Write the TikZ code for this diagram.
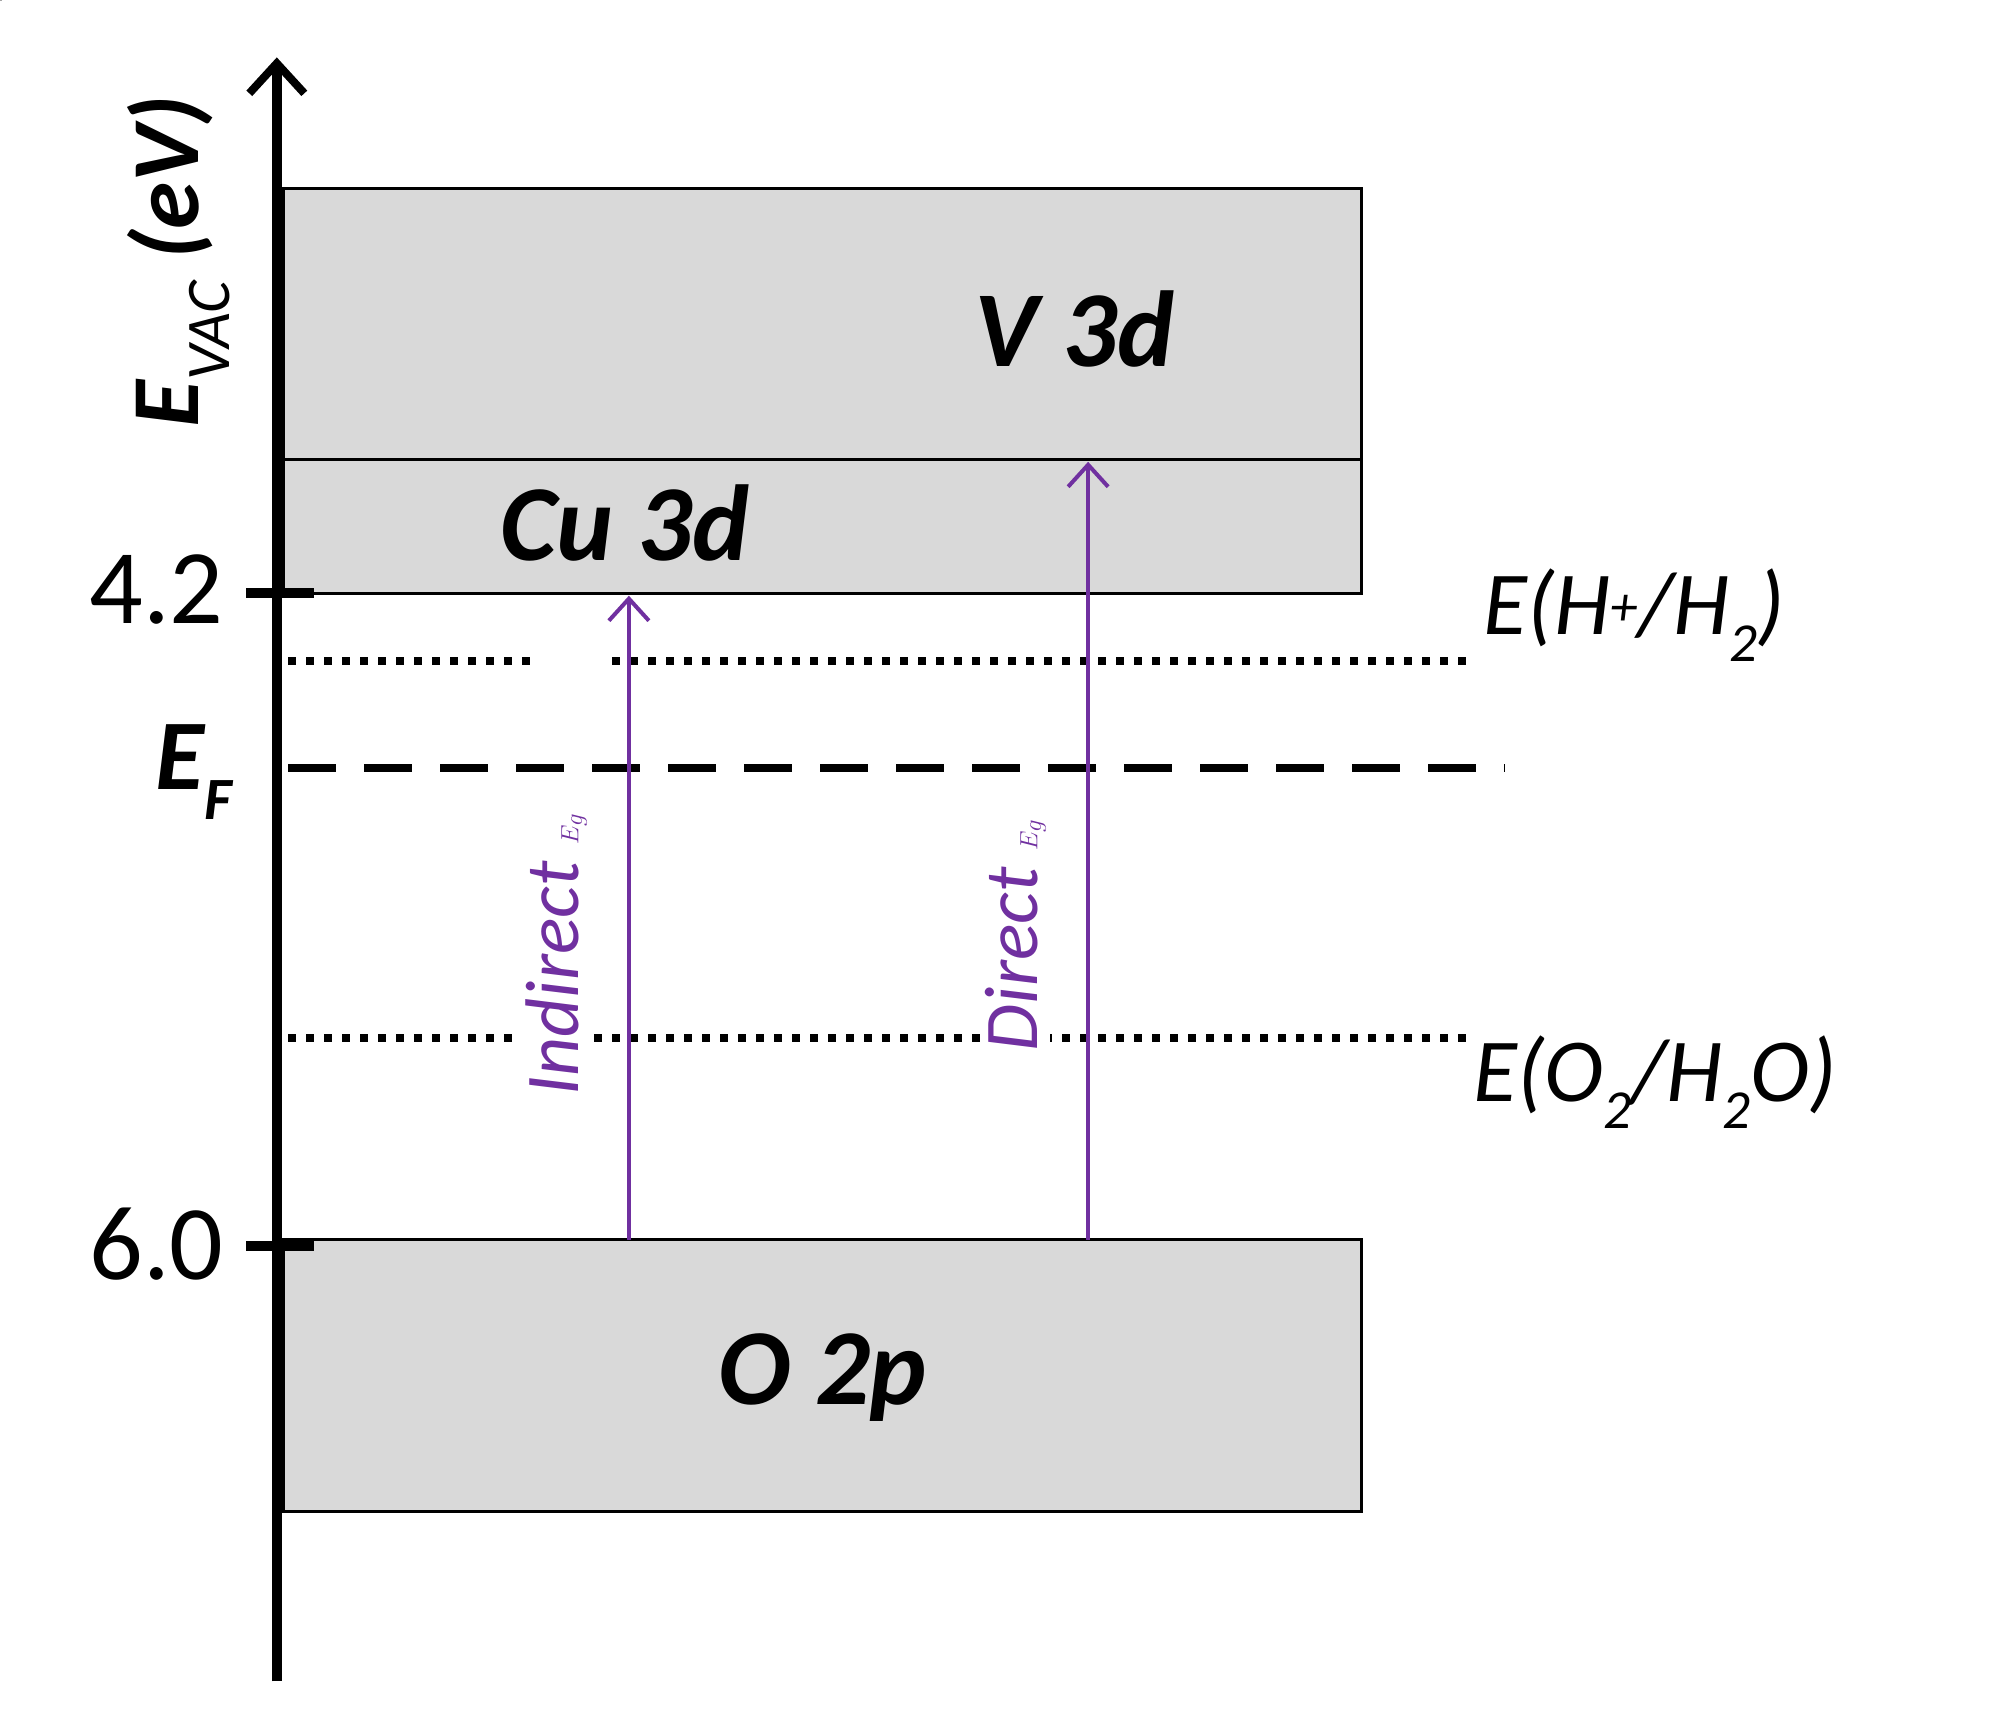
\documentclass[tikz,border=0pt]{standalone}
\usepackage{fontspec}
\setmainfont{Carlito}
\usetikzlibrary{arrows.meta}
\definecolor{boxg}{RGB}{217,217,217}
\definecolor{pur}{RGB}{112,48,160}
\begin{document}
\begin{tikzpicture}[x=1.2756pt,y=-1.2756pt,
  band/.style={draw=black,line width=3pt,fill=boxg},
  big/.style={font=\fontsize{108}{110}\selectfont\bfseries\itshape},
  lev/.style={font=\fontsize{90}{92}\selectfont\itshape,anchor=west},
  num/.style={font=\fontsize{106}{108}\selectfont},
  gap/.style={draw=pur,line width=4pt,-{Straight Barb[length=22pt,width=40pt,line width=4pt]}},
  glab/.style={font=\fontsize{76}{78}\selectfont\itshape,text=pur,fill=white,rotate=90,inner sep=4pt},
  dotl/.style={line width=8pt,dash pattern=on 8pt off 10pt},
  dashl/.style={line width=8pt,dash pattern=on 48pt off 28pt}]
\useasboundingbox (0,0) rectangle (1560,1341);
\node[band,minimum width=0,inner sep=0] (v) at (0,0) {};
\path[band] (222,148) rectangle (1067,360);
\path[band] (222,360) rectangle (1067,465);
\path[band] (222,972) rectangle (1067,1185);
\coordinate (vtop) at (853,362); \coordinate (cutop) at (493,467);
\coordinate (ob1) at (493,972); \coordinate (ob2) at (853,972);
\node[big] (vl) at (842,258) {V 3d};
\node[big] (cl) at (490,410) {Cu 3d};
\node[big] (ol) at (645,1080) {O 2p};
\draw[dotl] (226,518) -- (1150,518);
\draw[dotl] (226,814) -- (1150,814);
\draw[dashl] (226,602) -- (1180,602);
\draw[gap] (ob1) -- (cutop);
\draw[gap] (ob2) -- (vtop);
\node[glab] (il) at (436,748) {Indirect $E_g$};
\node[glab] (dl) at (796,733) {Direct $E_g$};
\draw[line width=3.5pt,fill=white,draw=none] (420,505) rectangle (480,530);
\draw[line width=10pt,-{Straight Barb[length=30pt,width=55pt,line width=8pt]}] (217,1318) -- (217,45);
\draw[line width=10pt] (193,465) -- (246,465);
\draw[line width=10pt] (193,977) -- (246,977);
\node[num,anchor=east] (n1) at (178,462) {4.2};
\node[num,anchor=east] (n2) at (178,975) {6.0};
\node[anchor=east,font=\fontsize{100}{100}\selectfont\bfseries\itshape] (ef) at (185,605) {E$_{\mbox{\fontsize{60}{60}\selectfont F}}$};
\node[rotate=90,font=\fontsize{96}{98}\selectfont\bfseries\itshape] (ev) at (140,205) {E$_{\mbox{\fontsize{62}{62}\selectfont\mdseries VAC}}$ (eV)};
\node[lev] (h) at (1160,482) {E(H$^{\mbox{\fontsize{55}{55}\selectfont +}}$/H$_{\mbox{\fontsize{55}{55}\selectfont 2}}$)};
\node[lev] (o) at (1152,848) {E(O$_{\mbox{\fontsize{55}{55}\selectfont 2}}$/H$_{\mbox{\fontsize{55}{55}\selectfont 2}}$O)};
\end{tikzpicture}
\end{document}
